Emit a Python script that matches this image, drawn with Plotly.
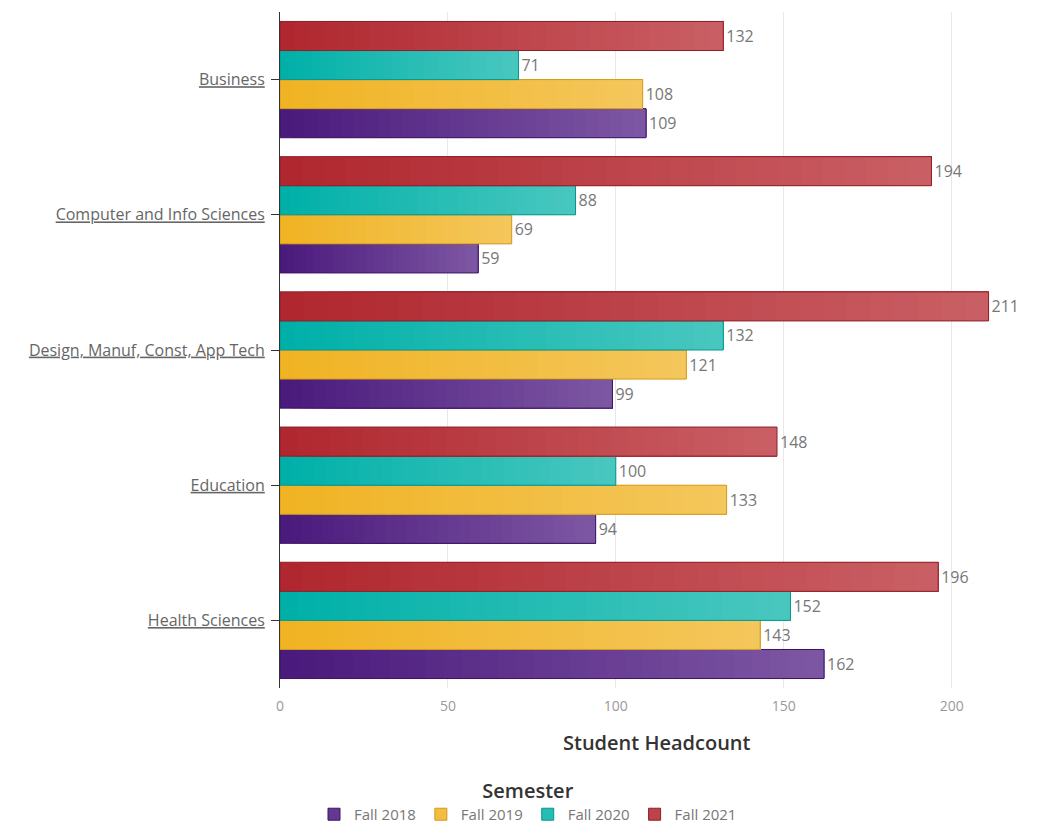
import plotly.graph_objects as go

categories = ["Business", "Computer and Info Sciences", "Design, Manuf, Const, App Tech",
              "Education", "Health Sciences"]
semesters = ["Fall 2018", "Fall 2019", "Fall 2020", "Fall 2021"]
fall_2018 = [109, 59, 99, 94, 162]
fall_2019 = [108, 69, 121, 133, 143]
fall_2020 = [71, 88, 132, 100, 152]
fall_2021 = [132, 194, 211, 148, 196]
series_values = [fall_2018, fall_2019, fall_2020, fall_2021]

# gradient start, end, border colours per semester
grad_start = [(74, 26, 124), (240, 179, 35), (0, 176, 168), (176, 39, 47)]
grad_end = [(125, 86, 163), (244, 199, 92), (72, 199, 191), (201, 95, 100)]
borders = ["#3d1566", "#d49a1c", "#08968e", "#8f1f28"]

N = 30
font_fam = "'Open Sans', Lato, sans-serif"

fig = go.Figure()
for s, name in enumerate(semesters):
    vals = series_values[s]
    for i in range(N):
        t = i / (N - 1)
        c = tuple(round(grad_start[s][k] + (grad_end[s][k] - grad_start[s][k]) * t) for k in range(3))
        fig.add_trace(go.Bar(
            y=categories, x=[v - v * i / N for v in vals], base=[v * i / N for v in vals],
            orientation="h", offsetgroup=name, legendgroup=name, showlegend=False,
            marker=dict(color="rgb(%d,%d,%d)" % c, line=dict(width=0)),
            hoverinfo="skip"))
    fig.add_trace(go.Bar(
        y=categories, x=vals, orientation="h", offsetgroup=name, legendgroup=name,
        name=name, showlegend=False,
        marker=dict(color="rgba(0,0,0,0)", line=dict(color=borders[s], width=1)),
        text=[str(v) for v in vals], textposition="outside", cliponaxis=False,
        textfont=dict(family=font_fam, size=16, color="#777777")))
    mid = tuple(round((grad_start[s][k] + grad_end[s][k]) / 2) for k in range(3))
    fig.add_trace(go.Bar(
        y=[None], x=[None], orientation="h", offsetgroup=name, legendgroup=name,
        name=name, showlegend=True,
        marker=dict(color="rgb(%d,%d,%d)" % mid, line=dict(color=borders[s], width=1))))

fig.update_layout(
    barmode="group", bargap=0.14, bargroupgap=0,
    width=1040, height=830,
    margin=dict(l=272, r=46, t=4, b=150),
    plot_bgcolor="white", paper_bgcolor="white",
    font=dict(family=font_fam, color="#555555"),
    xaxis=dict(range=[0, 215], tickvals=[0, 50, 100, 150, 200],
               showgrid=True, gridcolor="#e8e8e8", gridwidth=1, zeroline=False,
               showline=False, ticks="", ticklabelstandoff=8,
               tickfont=dict(size=14, color="#999999")),
    yaxis=dict(categoryorder="array", categoryarray=categories[::-1],
               showline=True, linecolor="#333333", linewidth=1,
               ticks="outside", ticklen=8, tickcolor="#333333", showgrid=False,
               ticklabelstandoff=3,
               tickfont=dict(size=16, color="#666666", lineposition="under")),
    legend=dict(orientation="h", x=0.3435, xanchor="center",
                y=-0.2115, yanchor="bottom",
                title=dict(text="Semester", side="top center",
                           font=dict(size=20, color="#333333", weight=600)),
                font=dict(size=15, color="#777777"), traceorder="normal"),
    annotations=[dict(text="Student Headcount", xref="paper", yref="paper",
                      x=0.522, y=-0.08, xanchor="center", yanchor="middle", showarrow=False,
                      font=dict(size=20, color="#333333", weight=600))],
)

fig.write_html("out.html")
